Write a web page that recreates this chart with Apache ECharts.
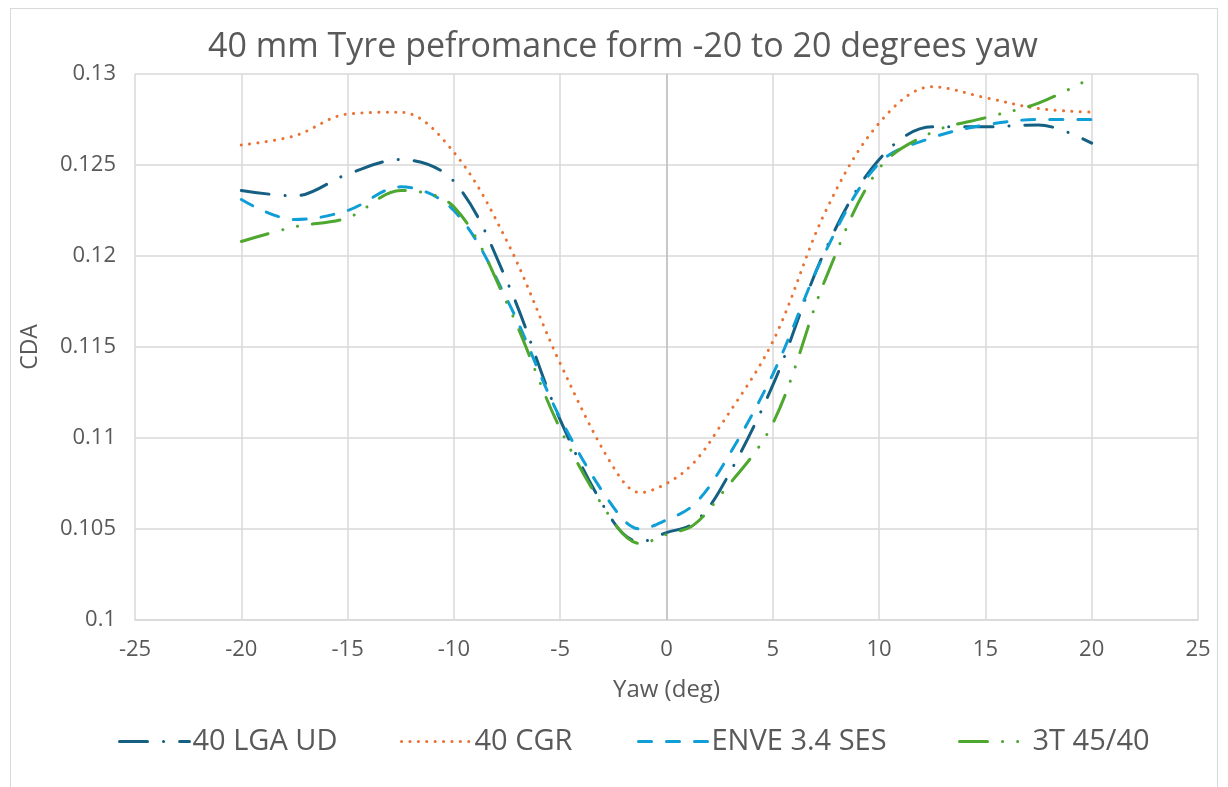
<!DOCTYPE html>
<html>
<head>
<meta charset="utf-8">
<script src="https://cdn.jsdelivr.net/npm/echarts@6/dist/echarts.min.js"></script>
<style>
  html, body { margin: 0; padding: 0; background: #ffffff; }
  #frame { position: absolute; left: 10px; top: 8px; width: 1208px; height: 800px; border: 1.5px solid #D9D9D9; box-sizing: border-box; }
  #chart { position: absolute; left: 0; top: 0; width: 1228px; height: 787px; }
</style>
</head>
<body>
<div id="frame"></div>
<div id="chart"></div>
<script>
// ---- Data ----
const yaw = [-20, -17.5, -15, -12.5, -10, -7.5, -5, -2.5, -1.25, 0, 1.25, 2.5, 5, 7.5, 10, 12.5, 15, 17.5, 20];
const lgaUD  = [0.1236, 0.1233, 0.1245, 0.1253, 0.1241, 0.1186, 0.1110, 0.1054, 0.1043, 0.1048, 0.1053, 0.1071, 0.1129, 0.1204, 0.1253, 0.1271, 0.1271, 0.1272, 0.1262];
const cgr    = [0.1261, 0.1266, 0.1278, 0.1279, 0.1257, 0.1208, 0.1141, 0.1084, 0.1070, 0.1075, 0.1086, 0.1106, 0.1153, 0.1225, 0.1273, 0.1293, 0.1287, 0.1281, 0.1279];
const enve   = [0.1231, 0.1220, 0.1225, 0.1238, 0.1225, 0.1176, 0.1111, 0.1062, 0.1050, 0.1055, 0.1063, 0.1082, 0.1135, 0.1203, 0.1251, 0.1265, 0.1272, 0.1275, 0.1275];
const t3     = [0.1208, 0.1216, 0.1221, 0.1236, 0.1227, 0.1174, 0.1105, 0.1054, 0.1042, 0.1047, 0.1052, 0.1068, 0.1108, 0.1188, 0.1248, 0.1268, 0.1276, 0.1284, 0.1298];
const seriesNames = ['40 LGA UD', '40 CGR', 'ENVE 3.4 SES', '3T 45/40'];
const titleText = '40 mm Tyre pefromance form -20 to 20 degrees yaw';
const xAxisName = 'Yaw (deg)';
const yAxisName = 'CDA';

const pair = (ys) => yaw.map((x, i) => [x, ys[i]]);

const FONT = '"Open Sans", "Liberation Sans", sans-serif';
const TXT = '#595959';
const colors = ['#156082', '#E97132', '#0F9ED5', '#4EA72E'];
const dashes = [
  [28, 16, 0.1, 16],
  [0.1, 8.3],
  [13, 15],
  [28, 15, 0.1, 15, 0.1, 15]
];
const datasets = [lgaUD, cgr, enve, t3];

const chart = echarts.init(document.getElementById('chart'), null, { renderer: 'canvas' });

const series = datasets.map((d, i) => ({
  name: seriesNames[i],
  type: 'line',
  data: pair(d),
  smooth: 0.35,
  symbol: 'none',
  showSymbol: false,
  color: colors[i],
  lineStyle: { color: colors[i], width: 3, type: dashes[i], cap: 'round', join: 'round' },
  z: 3,
  markLine: i === 0 ? {
    silent: true,
    symbol: ['none', 'none'],
    label: { show: false },
    lineStyle: { color: '#BFBFBF', width: 1.5, type: 'solid' },
    data: [{ xAxis: 0 }],
    z: 1
  } : undefined
}));

const legendLefts = [113, 395, 632, 953];
const legends = seriesNames.map((n, i) => ({
  data: [n],
  left: legendLefts[i],
  top: 722,
  itemWidth: 70,
  itemHeight: 14,
  itemGap: 0,
  selectedMode: false,
  itemStyle: { color: 'transparent', borderColor: 'transparent', borderWidth: 0, opacity: 0 },
  lineStyle: { cap: 'round', width: 3 },
  textStyle: { fontFamily: FONT, fontSize: 29, color: TXT, padding: [0, 0, 0, -2] }
}));

chart.setOption({
  animation: false,
  backgroundColor: 'transparent',
  title: {
    text: titleText,
    left: 618,
    textAlign: 'center',
    top: 25,
    textStyle: { fontFamily: FONT, fontSize: 34, fontWeight: 'normal', color: TXT }
  },
  legend: legends,
  grid: { left: 135, right: 30, top: 74, bottom: 167, containLabel: false },
  xAxis: {
    type: 'value',
    min: -25, max: 25, interval: 5,
    name: xAxisName,
    nameLocation: 'middle',
    nameGap: 58,
    nameTextStyle: { fontFamily: FONT, fontSize: 24, color: TXT },
    axisLine: { show: true, onZero: false, lineStyle: { color: '#D9D9D9', width: 1.5 } },
    axisTick: { show: false },
    axisLabel: { fontFamily: FONT, fontSize: 22, color: TXT, margin: 19 },
    splitLine: { show: true, lineStyle: { color: '#D9D9D9', width: 1.5 } }
  },
  yAxis: {
    type: 'value',
    min: 0.1, max: 0.13, interval: 0.005,
    name: yAxisName,
    nameLocation: 'middle',
    nameGap: 93,
    nameRotate: 90,
    nameTextStyle: { fontFamily: FONT, fontSize: 23, color: TXT },
    axisLine: { show: false },
    axisTick: { show: false },
    axisLabel: {
      fontFamily: FONT, fontSize: 22, color: TXT, margin: 19,
      formatter: (v) => String(parseFloat(v.toFixed(4)))
    },
    splitLine: { show: true, lineStyle: { color: '#D9D9D9', width: 1.5 } }
  },
  series: series
});
</script>
</body>
</html>
